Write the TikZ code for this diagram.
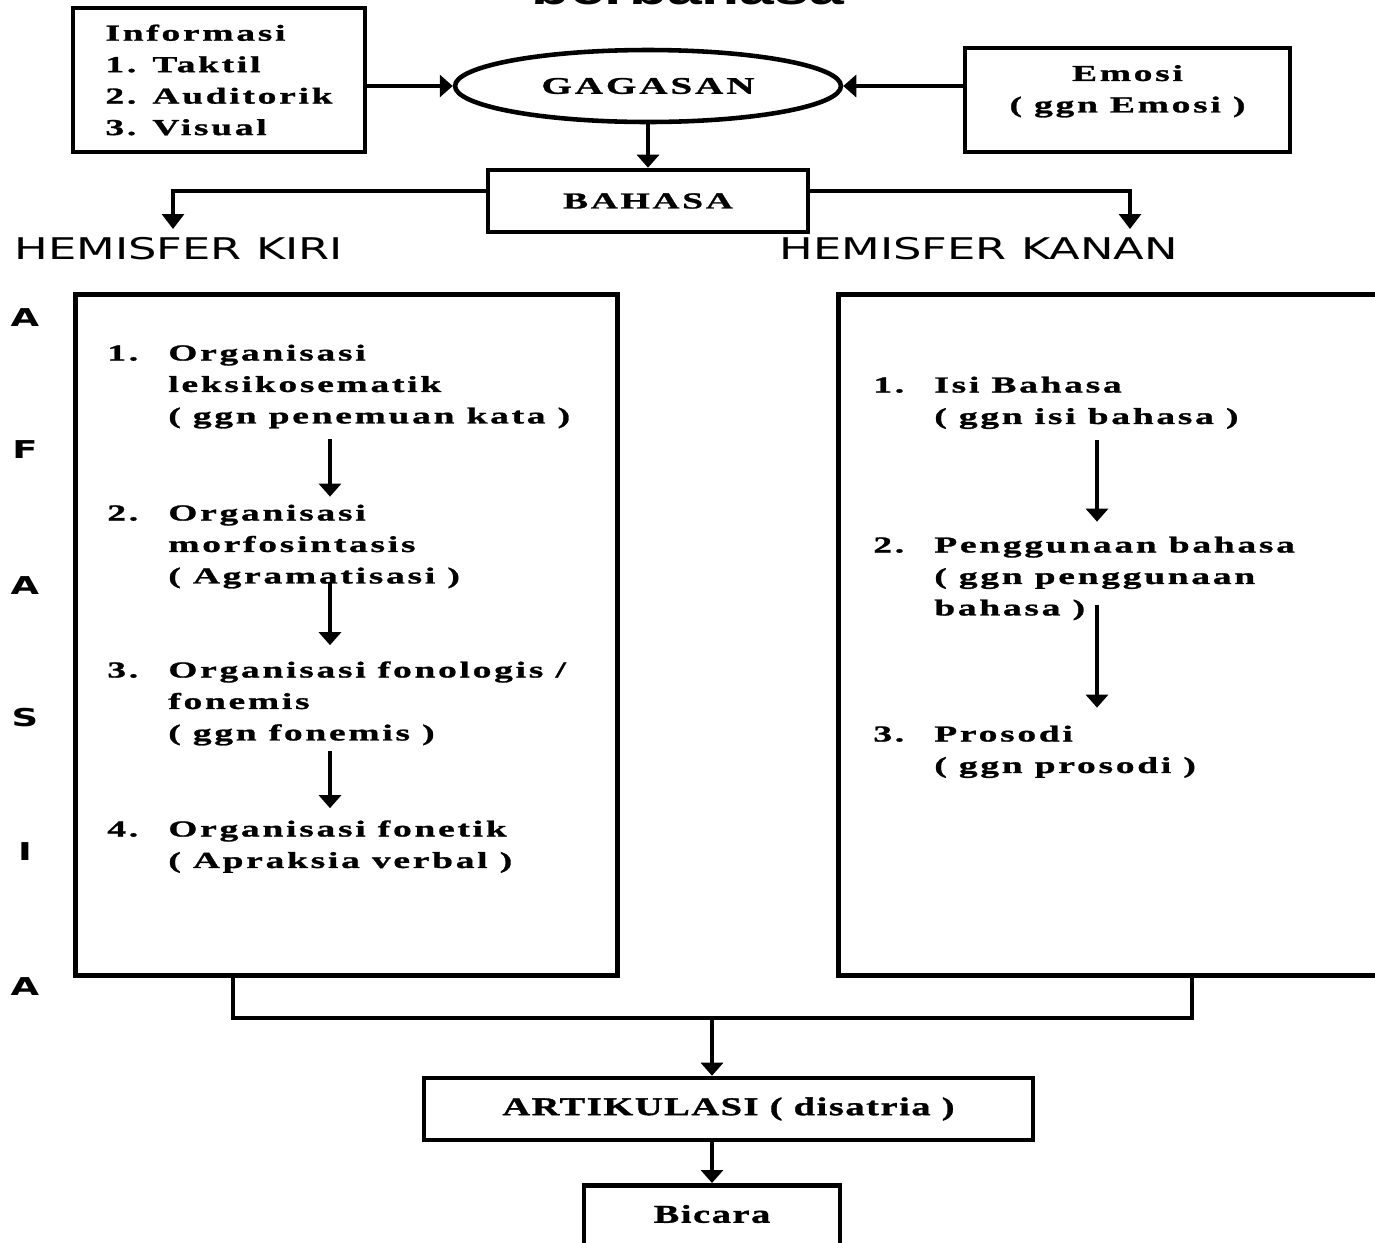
\documentclass[tikz,border=0pt]{standalone}
\usepackage{fontspec}
\usetikzlibrary{shapes.geometric,arrows.meta}

\newfontfamily\boxfont[FakeStretch=1.64,LetterSpace=12,FakeBold=1.2]{Liberation Serif}
\newfontfamily\artfont[FakeStretch=1.5,LetterSpace=6,FakeBold=1.2]{Liberation Serif}
\newfontfamily\hemfont[FakeStretch=1.5]{DejaVu Sans}
\newfontfamily\titlefont[FakeStretch=1.45]{Liberation Sans}

\newcommand{\itembox}[2]{\begin{tabular}[t]{@{}p{1.22cm}@{}l@{}}#1 & #2\end{tabular}}

\begin{document}
\begin{tikzpicture}[x=0.02cm,y=-0.02cm,
  box/.style={draw,line width=2.6pt,inner sep=0pt,font=\boxfont\bfseries\fontsize{13}{17.9}\selectfont},
  item/.style={anchor=base west,inner sep=0pt,font=\boxfont\bfseries\fontsize{13}{17.9}\selectfont},
  hem/.style={anchor=west,inner sep=0pt,font=\hemfont\fontsize{17}{20}\selectfont},
  afs/.style={inner sep=0pt,font=\hemfont\bfseries\fontsize{14}{18}\selectfont},
  arr/.style={line width=2.2pt,-{Triangle[length=0.26cm,width=0.44cm]}},
  thinarr/.style={line width=1.8pt,-{Triangle[length=0.3cm,width=0.44cm]}},
  line/.style={line width=2.2pt}]
\useasboundingbox (0,0) rectangle (1375,1242);
\clip (0,0) rectangle (1375,1242);

% judul (terpotong di atas)
\node[anchor=base,inner sep=0pt,font=\titlefont\bfseries\fontsize{24.5}{28}\selectfont] (judul) at (688,4) {berbahasa};

% bagian atas
\node[box,align=left,minimum width=5.84cm,minimum height=2.88cm] (info) at (219,80)
  {Informasi\\1. Taktil\\2. Auditorik\\3. Visual};
\node[box,ellipse,minimum width=7.72cm,minimum height=1.44cm,font=\boxfont\bfseries\fontsize{13.6}{17.9}\selectfont] (gagasan) at (648,86) {GAGASAN};
\node[box,align=center,minimum width=6.5cm,minimum height=2.08cm,text depth=0.45cm] (emosi) at (1127.5,100)
  {Emosi\\( ggn Emosi )};
\node[box,minimum width=6.4cm,minimum height=1.24cm] (bahasa) at (648,201) {BAHASA};

\draw[arr] (info.east |- gagasan.west) -- (gagasan.west);
\draw[arr] (emosi.west |- gagasan.east) -- (gagasan.east);
\draw[arr] (gagasan.south) -- (bahasa.north);

% hemisfer
\node[hem] (kiri) at (14,249) {HEMISFER KIRI};
\node[hem] (kanan) at (779,249) {HEMISFER KANAN};
\coordinate (kl) at (173,229);
\coordinate (kr) at (1130,229);
\draw[thinarr] ([yshift=0.2cm]bahasa.west) -| (kl);
\draw[thinarr] ([yshift=0.2cm]bahasa.east) -| (kr);

% AFASIA
\foreach \l/\y in {A/318,F/450,A/586,S/718,I/852,A/987}
  \node[afs] (af\y) at (25,\y) {\l};

% kotak kiri
\node[draw,line width=2.8pt,minimum width=10.86cm,minimum height=13.64cm] (lbox) at (346.5,635) {};
\node[item] (l1) at (107,360.5) {\itembox{1.}{Organisasi\\ & leksikosematik\\ & ( ggn penemuan kata )}};
\node[item] (l2) at (107,520.5) {\itembox{2.}{Organisasi\\ & morfosintasis\\ & ( Agramatisasi )}};
\node[item] (l3) at (107,677.5) {\itembox{3.}{Organisasi fonologis /\\ & fonemis\\ & ( ggn fonemis )}};
\node[item] (l4) at (107,836.5) {\itembox{4.}{Organisasi fonetik\\ & ( Apraksia verbal )}};
\coordinate (ax) at (330,0);
\draw[arr] ([yshift=-0.12cm]l1.south -| ax) -- ([yshift=0.03cm]l2.north -| ax);
\draw[arr] ([yshift=0.2cm]l2.south -| ax) -- ([yshift=0.2cm]l3.north -| ax);
\draw[arr] ([yshift=-0.02cm]l3.south -| ax) -- ([yshift=0.12cm]l4.north -| ax);

% kotak kanan
\node[draw,line width=2.8pt,minimum width=11.64cm,minimum height=13.64cm] (rbox) at (1129,635) {};
\node[item] (r1) at (873,392.5) {\itembox{1.}{Isi Bahasa\\ & ( ggn isi bahasa )}};
\node[item] (r2) at (873,552.5) {\itembox{2.}{Penggunaan bahasa\\ & ( ggn penggunaan\\ & bahasa )}};
\node[item] (r3) at (873,741.5) {\itembox{3.}{Prosodi\\ & ( ggn prosodi )}};
\coordinate (bx) at (1097,0);
\draw[arr] ([yshift=-0.12cm]r1.south -| bx) -- ([yshift=0.17cm]r2.north -| bx);
\draw[arr] ([yshift=0.4cm]r2.south -| bx) -- ([yshift=0.23cm]r3.north -| bx);

% bagian bawah
\node[draw,line width=2.6pt,minimum width=12.18cm,minimum height=1.24cm,inner sep=0pt,
  font=\artfont\bfseries\fontsize{14.6}{17}\selectfont] (artik) at (728.5,1109) {ARTIKULASI ( disatria )};
\node[draw,line width=2.6pt,anchor=north,minimum width=5.12cm,inner xsep=0pt,inner ysep=0.41cm,
  text height=0.34cm,text depth=1cm,font=\artfont\bfseries\fontsize{14.6}{17}\selectfont] (bicara) at (712,1183) {Bicara};
\coordinate (jl) at (233,1018);
\coordinate (jr) at (1192,1018);
\draw[line] (lbox.south -| jl) -- (jl) -- (jr) -- (rbox.south -| jr);
\draw[arr] (jl -| bicara) -- (artik.north -| bicara);
\draw[arr] (artik.south -| bicara) -- (bicara.north);
\end{tikzpicture}
\end{document}
